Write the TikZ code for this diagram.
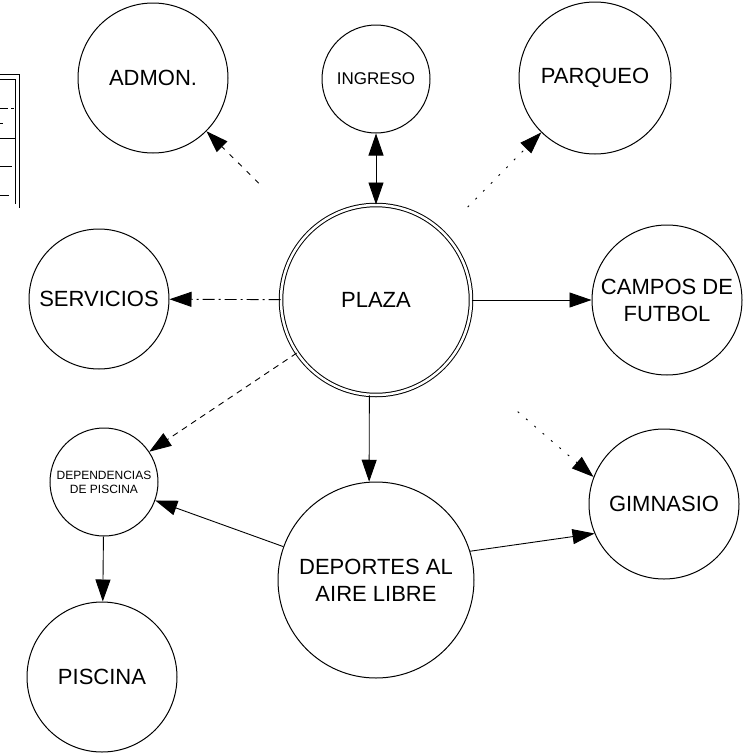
\documentclass[tikz,border=0pt]{standalone}
\usepackage{fontspec}
\setmainfont{Liberation Sans}
\usetikzlibrary{arrows.meta}
\begin{document}
\begin{tikzpicture}[x=1pt,y=-1pt,
  bub/.style={circle,draw,line width=1pt,inner sep=0pt,align=center,font=\fontsize{22}{27}\selectfont},
  conn/.style={line width=0.9pt,-{Triangle[length=22pt,width=15pt]}},
  dots/.style={dash pattern=on 2pt off 9pt},
  tbl/.style={line width=0.9pt}
]
\useasboundingbox (0,0) rectangle (744,755);
% partial table at the left edge
\draw[tbl] (-2,74) -- (19,74) -- (19,208);
\draw[tbl] (-2,79) -- (15,79) -- (15,204);
\draw[tbl,dash pattern=on 8pt off 3pt] (0,108) -- (14,108);
\draw[tbl] (0,123) -- (3,123);
\draw[tbl] (0,138) -- (15,138);
\draw[tbl] (0,166) -- (12,166);
\draw[tbl] (0,195) -- (9,195);
% nodes
\node[bub,minimum size=150pt] (admon) at (153,78) {ADMON.};
\node[bub,minimum size=108pt,font=\fontsize{17}{20}\selectfont] (ingreso) at (376,79) {INGRESO};
\node[bub,minimum size=152pt] (parqueo) at (595,78) {PARQUEO};
\node[bub,minimum size=140pt] (serv) at (99,299) {SERVICIOS};
\node[bub,minimum size=190pt,double,double distance=2.5pt] (plaza) at (376,300) {PLAZA};
\node[bub,minimum size=150pt] (campos) at (667,300) {CAMPOS DE\\FUTBOL};
\node[bub,minimum size=108pt,font=\fontsize{12}{14}\selectfont] (depend) at (104,482) {DEPENDENCIAS\\DE PISCINA};
\node[bub,minimum size=196pt] (deportes) at (376,580) {DEPORTES AL\\AIRE LIBRE};
\node[bub,minimum size=150pt] (gim) at (664,504) {GIMNASIO};
\node[bub,minimum size=150pt] (piscina) at (102,677) {PISCINA};
% connectors
\draw[conn,dash pattern=on 5pt off 7pt,shorten <=70pt] (plaza) -- (admon);
\draw[line width=0.9pt,{Triangle[length=22pt,width=15pt]}-{Triangle[length=22pt,width=15pt]}] (plaza) -- (ingreso);
\draw[conn,dots,shorten <=35pt] (plaza) -- (parqueo);
\draw[conn,dash pattern=on 12pt off 4pt on 2pt off 4pt] (plaza) -- (serv);
\draw[conn] (plaza) -- (campos);
\draw[conn,dash pattern=on 6pt off 5pt] (plaza) -- (depend);
\draw[conn,dots,shorten <=85pt] (plaza.-36) -- (gim.159);
\draw[conn] (plaza.-94.5) -- (deportes.94.2);
\draw[conn] (deportes) -- (depend);
\draw[conn] (deportes.17) -- (gim.-157);
\draw[conn] (depend) -- (piscina);
\end{tikzpicture}
\end{document}
